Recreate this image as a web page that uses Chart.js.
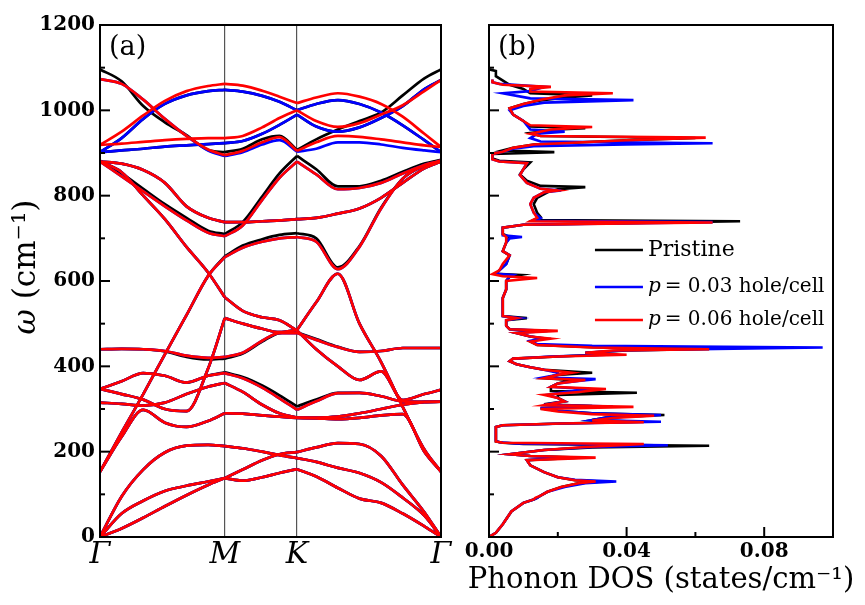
<!DOCTYPE html>
<html>
<head>
<meta charset="utf-8">
<script src="https://cdn.jsdelivr.net/npm/chart.js@4.4.0/dist/chart.umd.min.js"></script>
<style>
  body { margin: 0; background: #fff; }
  #wrap { position: relative; width: 865px; height: 605px; }
  #bandChart { position: absolute; left: 0; top: 0; }
  #dosChart { position: absolute; left: 460px; top: 0; }
</style>
</head>
<body>
<div id="wrap">
  <canvas id="bandChart" width="460" height="605"></canvas>
  <canvas id="dosChart" width="405" height="605"></canvas>
</div>
<script>
// k-path samples (Gamma - M - K - Gamma)
const kPath = [0, 0.1, 0.2, 0.3, 0.4, 0.5, 0.577, 0.66, 0.75, 0.83, 0.911, 1.0, 1.1, 1.2, 1.3, 1.4, 1.5, 1.577];
const kTicks = [0, 0.577, 0.911, 1.577];
const kLabels = ['Γ', 'M', 'K', 'Γ'];
const segments = [[0, 6], [6, 10], [10, 17]];

// branches shared by all three cases (cm^-1)
const acZA = [0, 20, 45, 72, 98, 122, 138, 132, 140, 150, 159, 142, 115, 90, 80, 55, 25, 0];
const acTA = [0, 55, 85, 108, 120, 130, 138, 158, 180, 194, 199, 210, 220, 218, 190, 122, 58, 0];
const acLA = [0, 95, 158, 198, 214, 216, 213, 208, 200, 192, 185, 176, 162, 150, 128, 92, 50, 0];
const optA = [153, 235, 298, 268, 258, 272, 290, 289, 285, 282, 279, 278, 276, 279, 285, 288, 200, 153];
const optC = [347, 335, 322, 300, 295, 395, 513, 500, 488, 480, 485, 550, 617, 500, 410, 305, 205, 153];
const optE = [315, 312, 308, 315, 335, 352, 361, 340, 310, 290, 280, 280, 282, 290, 300, 310, 316, 317];
const optG = [880, 855, 800, 745, 680, 620, 562, 530, 515, 508, 484, 440, 400, 368, 388, 321, 335, 345];
const optI = [880, 875, 860, 830, 775, 748, 738, 738, 740, 742, 745, 748, 758, 770, 795, 830, 864, 880];

// branches that shift with doping
const optB = [153, 245, 335, 428, 520, 612, 656, 678, 692, 700, 703, 692, 628, 680, 770, 840, 870, 880];
const optB0 = [153, 245, 335, 428, 520, 612, 658, 683, 698, 708, 712, 700, 632, 682, 772, 840, 870, 882];
const optD = [347, 365, 384, 378, 362, 378, 384, 372, 350, 325, 298, 318, 337, 338, 330, 318, 317, 317];
const optD0 = [347, 365, 384, 378, 362, 378, 386, 375, 355, 332, 306, 322, 338, 338, 330, 318, 317, 317];
const optF = [440, 441, 440, 436, 425, 420, 422, 432, 460, 478, 478, 462, 445, 434, 436, 443, 443, 443];
const optF0 = [440, 441, 440, 435, 422, 416, 418, 430, 458, 478, 480, 464, 446, 434, 436, 443, 443, 443];
const optH = [880, 845, 810, 775, 742, 713, 705, 730, 790, 842, 880, 850, 815, 818, 830, 852, 872, 882];
const optH0 = [882, 852, 816, 780, 748, 718, 710, 738, 798, 852, 893, 862, 822, 822, 835, 856, 875, 884];

const hiTop0 = [1096, 1068, 1010, 972, 942, 907, 902, 910, 932, 940, 907, 932, 955, 975, 995, 1035, 1075, 1096];
const hiTop03 = [1073, 1062, 1025, 980, 940, 906, 893, 902, 920, 930, 903, 910, 925, 925, 920, 912, 906, 902];
const hiRise03 = [902, 935, 980, 1015, 1035, 1045, 1048, 1044, 1034, 1020, 1000, 1015, 1024, 1015, 995, 965, 930, 902];
const hiFlat03 = [902, 906, 910, 915, 918, 921, 923, 928, 945, 966, 990, 962, 950, 960, 982, 1010, 1050, 1071];
const hiTop06 = [1073, 1062, 1025, 980, 940, 908, 895, 905, 925, 937, 905, 925, 940, 938, 932, 925, 918, 914];
const hiRise06 = [919, 950, 988, 1022, 1045, 1057, 1062, 1058, 1046, 1032, 1017, 1030, 1040, 1032, 1015, 985, 945, 914];
const hiFlat06 = [919, 922, 926, 930, 933, 935, 935, 940, 960, 982, 1000, 975, 961, 970, 990, 1012, 1045, 1071];

const pristineBands = [acZA, acTA, acLA, optA, optB0, optC, optD0, optE, optF0, optG, optH0, optI, hiTop0, hiRise03, hiFlat03];
const p03Bands = [acZA, acTA, acLA, optA, optB, optC, optD, optE, optF, optG, optH, optI, hiTop03, hiRise03, hiFlat03];
const p06Bands = [acZA, acTA, acLA, optA, optB, optC, optD, optE, optF, optG, optH, optI, hiTop06, hiRise06, hiFlat06];

// phonon DOS: frequency (cm^-1) and DOS (states/cm^-1)
const dosW0 = [0,10,30,60,80,88,92,97,106,117,126,130,133,140,152,168,180,186,190,194,204,210,214,218,221,224,258,262,266,270,274,280,286,290,296,302,307,311,318,326,333,338,342,352,360,368,372,380,385,392,398,405,412,418,423,428,432,437,441,445,450,458,465,470,478,483,487,495,508,513,518,540,560,580,600,610,614,617,625,640,660,670,690,703,710,725,732,740,743,750,760,780,795,808,815,820,823,835,850,862,878,882,887,898,902,906,912,920,930,935,940,947,955,958,962,975,990,1005,1015,1022,1030,1035,1040,1050,1060,1080,1092,1096];
const dosD0 = [0,0.002,0.004,0.0065,0.010,0.013,0.014,0.015,0.017,0.021,0.026,0.033,0.025,0.020,0.016,0.012,0.011,0.026,0.012,0.006,0.016,0.030,0.064,0.010,0.004,0.002,0.002,0.004,0.021,0.044,0.030,0.034,0.051,0.030,0.020,0.015,0.030,0.016,0.022,0.020,0.020,0.043,0.018,0.018,0.020,0.024,0.016,0.020,0.030,0.016,0.012,0.008,0.006,0.007,0.020,0.034,0.028,0.040,0.064,0.030,0.014,0.012,0.016,0.012,0.008,0.014,0.006,0.005,0.005,0.011,0.004,0.004,0.004,0.005,0.005,0.006,0.009,0.002,0.003,0.005,0.006,0.004,0.005,0.006,0.004,0.004,0.010,0.073,0.013,0.015,0.014,0.013,0.014,0.017,0.020,0.028,0.015,0.011,0.009,0.010,0.012,0.003,0.001,0.001,0.019,0.004,0.007,0.013,0.040,0.060,0.015,0.012,0.020,0.028,0.012,0.010,0.007,0.006,0.010,0.014,0.022,0.030,0.012,0.010,0.006,0.002,0.002,0];
const dosW3 = [0,10,30,60,80,88,92,97,106,117,126,130,134,140,152,168,180,186,190,194,204,211,215,219,222,226,258,262,266,270,274,280,286,290,296,302,306,310,318,326,333,340,346,352,360,366,370,374,380,385,392,398,405,412,418,423,427,432,438,444,448,452,460,466,470,478,483,487,495,508,513,518,540,560,580,600,610,614,617,625,640,660,670,690,700,703,707,725,732,738,741,748,760,780,795,808,812,816,830,848,862,876,880,885,898,903,910,916,920,923,927,935,945,950,955,975,990,1000,1010,1018,1024,1028,1040,1045,1055,1062,1066,1072];
const dosD3 = [0,0.002,0.004,0.0065,0.010,0.013,0.014,0.015,0.017,0.022,0.028,0.037,0.025,0.020,0.016,0.012,0.011,0.022,0.012,0.006,0.016,0.030,0.052,0.008,0.003,0.002,0.002,0.004,0.022,0.050,0.030,0.034,0.050,0.030,0.020,0.015,0.036,0.016,0.022,0.020,0.017,0.022,0.030,0.018,0.020,0.026,0.031,0.016,0.020,0.020,0.016,0.012,0.008,0.006,0.007,0.018,0.034,0.028,0.040,0.097,0.030,0.014,0.012,0.016,0.012,0.008,0.017,0.006,0.005,0.005,0.009,0.004,0.004,0.004,0.005,0.005,0.006,0.007,0.002,0.003,0.005,0.006,0.004,0.005,0.006,0.0096,0.004,0.004,0.010,0.065,0.013,0.015,0.013,0.012,0.013,0.016,0.021,0.015,0.011,0.009,0.010,0.011,0.003,0.001,0.001,0.004,0.007,0.013,0.040,0.065,0.015,0.012,0.014,0.022,0.012,0.010,0.007,0.006,0.010,0.016,0.042,0.012,0.004,0.012,0.016,0.003,0.001,0.001];
const dosW6 = [0,10,30,60,80,88,92,97,106,117,126,130,133,140,152,168,180,186,190,194,204,211,218,221,224,258,262,266,269,273,279,284,288,294,300,305,309,318,326,333,340,347,352,360,368,372,380,385,392,398,405,412,418,423,427,432,437,440,444,450,458,465,470,478,483,487,495,508,513,518,540,560,580,600,607,611,616,625,640,660,670,690,703,710,725,732,737,740,748,760,780,795,808,812,816,830,848,862,876,880,885,898,903,912,920,930,936,940,945,955,961,965,975,990,1005,1015,1025,1035,1040,1044,1050,1055,1060,1066,1072];
const dosD6 = [0,0.002,0.004,0.0065,0.010,0.013,0.0135,0.015,0.017,0.021,0.026,0.031,0.025,0.020,0.016,0.012,0.011,0.031,0.012,0.006,0.016,0.028,0.045,0.004,0.002,0.002,0.004,0.021,0.045,0.030,0.036,0.048,0.030,0.020,0.015,0.042,0.016,0.022,0.020,0.016,0.026,0.034,0.018,0.020,0.028,0.016,0.020,0.024,0.016,0.012,0.008,0.006,0.007,0.020,0.040,0.028,0.036,0.064,0.030,0.014,0.012,0.018,0.012,0.008,0.020,0.006,0.005,0.005,0.008,0.004,0.004,0.004,0.005,0.005,0.014,0.004,0.001,0.003,0.004,0.006,0.004,0.005,0.005,0.004,0.004,0.010,0.065,0.012,0.014,0.013,0.012,0.013,0.016,0.020,0.015,0.011,0.009,0.010,0.011,0.003,0.001,0.001,0.004,0.007,0.013,0.040,0.063,0.015,0.012,0.018,0.030,0.012,0.010,0.007,0.006,0.010,0.015,0.022,0.036,0.012,0.012,0.018,0.004,0.001,0.001];

const seriesNames = ['Pristine', '0.03', '0.06'];
const seriesColors = ['#000000', '#0000ff', '#ff0000'];
const freqMax = 1200;
const freqMajor = 200;
const freqMinor = 100;
const dosTicks = [0, 0.04, 0.08];
const dosMinor = [0.02, 0.06, 0.10];

const serif = '"DejaVu Serif", "Liberation Serif", serif';

function bandSets(bands, color, order) {
  const out = [];
  bands.forEach(b => {
    segments.forEach(([a, z]) => {
      const pts = [];
      for (let i = a; i <= z; i++) pts.push({ x: kPath[i], y: b[i] });
      out.push({
        data: pts, borderColor: color, borderWidth: 2.7, pointRadius: 0,
        cubicInterpolationMode: 'monotone', fill: false, order: order
      });
    });
  });
  return out;
}

// inward ticks, frame, panel tag, axis titles and legend
const framePlugin = {
  id: 'frame',
  afterDatasetsDraw(chart, args, opts) {
    const { ctx, chartArea: a, scales } = chart;
    ctx.save();
    ctx.strokeStyle = '#000';
    ctx.lineWidth = 2;
    for (let v = 0; v <= freqMax; v += freqMinor) {
      const py = scales.y.getPixelForValue(v);
      const len = v % freqMajor === 0 ? 10 : 5;
      ctx.beginPath(); ctx.moveTo(a.left, py); ctx.lineTo(a.left + len, py); ctx.stroke();
    }
    if (opts.xMajor) {
      opts.xMajor.concat(opts.xMinor).forEach((v, i) => {
        const px = scales.x.getPixelForValue(v);
        const len = i < opts.xMajor.length ? 10 : 5;
        ctx.beginPath(); ctx.moveTo(px, a.bottom); ctx.lineTo(px, a.bottom - len); ctx.stroke();
      });
    }
    ctx.strokeRect(a.left, a.top, a.right - a.left, a.bottom - a.top);
    ctx.fillStyle = '#000';
    ctx.font = '27px ' + serif;
    ctx.textBaseline = 'middle';
    ctx.fillText(opts.tag, a.left + 9, a.top + 23);

    if (opts.yTitle) {
      ctx.save();
      ctx.translate(27, 267);
      ctx.rotate(-Math.PI / 2);
      ctx.font = 'italic 31px ' + serif;
      const w1 = ctx.measureText('ω ').width;
      ctx.font = '31px ' + serif;
      const rest = '(cm⁻¹)';
      const w2 = ctx.measureText(rest).width;
      const tx = -(w1 + w2) / 2;
      ctx.font = 'italic 31px ' + serif;
      ctx.fillText('ω ', tx, 0);
      ctx.font = '31px ' + serif;
      ctx.fillText(rest, tx + w1, 0);
      ctx.restore();
    }

    if (opts.xTitle) {
      ctx.save();
      ctx.font = '29px ' + serif;
      ctx.textAlign = 'center';
      ctx.fillText(opts.xTitle, (a.left + a.right) / 2, 580);
      ctx.restore();
    }

    if (opts.legend) {
      const x0 = scales.x.getPixelForValue(0.0308);
      const rows = [250, 287, 320];
      seriesNames.forEach((name, i) => {
        ctx.strokeStyle = seriesColors[i];
        ctx.lineWidth = 2.7;
        ctx.beginPath(); ctx.moveTo(x0, rows[i]); ctx.lineTo(x0 + 48, rows[i]); ctx.stroke();
        let tx = x0 + 53;
        if (i === 0) {
          ctx.font = '22px ' + serif;
          ctx.fillText(name, tx, rows[i]);
        } else {
          ctx.font = 'italic 20px ' + serif;
          ctx.fillText('p', tx, rows[i]);
          tx += ctx.measureText('p').width + 4;
          ctx.font = '20px ' + serif;
          ctx.fillText('= ' + name + ' hole/cell', tx, rows[i]);
        }
      });
    }
    ctx.restore();
  }
};

const tickFont = { family: serif, size: 20, weight: 'bold' };

new Chart(document.getElementById('bandChart').getContext('2d'), {
  type: 'line',
  data: {
    datasets: [].concat(
      bandSets(pristineBands, seriesColors[0], 3),
      bandSets(p03Bands, seriesColors[1], 2),
      bandSets(p06Bands, seriesColors[2], 1)
    )
  },
  plugins: [framePlugin],
  options: {
    responsive: false,
    animation: false,
    devicePixelRatio: 1,
    layout: { padding: { top: 25, right: 19, left: 0, bottom: 0 } },
    plugins: {
      legend: { display: false },
      tooltip: { enabled: false },
      frame: { tag: '(a)', yTitle: true }
    },
    scales: {
      x: {
        type: 'linear', min: 0, max: 1.577,
        afterBuildTicks: s => { s.ticks = kTicks.map(v => ({ value: v })); },
        afterFit: s => { s.height = 68; },
        ticks: {
          callback: (v, i) => kLabels[i],
          font: { family: serif, size: 30, style: 'italic' },
          color: '#000', padding: 0, maxRotation: 0, autoSkip: false
        },
        grid: {
          color: c => (c.index === 1 || c.index === 2) ? '#555' : 'rgba(0,0,0,0)',
          lineWidth: 1.2, drawTicks: false
        },
        border: { display: false }
      },
      y: {
        min: 0, max: freqMax,
        afterFit: s => { s.width = 100; },
        ticks: { stepSize: freqMajor, font: tickFont, color: '#000', padding: 5, callback: v => String(v) },
        grid: { display: false, drawTicks: false },
        border: { display: false }
      }
    }
  }
});

function dosSet(w, d, color, order) {
  return {
    data: w.map((v, i) => ({ x: d[i], y: v })),
    borderColor: color, borderWidth: 2.6, pointRadius: 0, tension: 0,
    fill: false, order: order
  };
}

new Chart(document.getElementById('dosChart').getContext('2d'), {
  type: 'line',
  data: {
    datasets: [
      dosSet(dosW0, dosD0, seriesColors[0], 3),
      dosSet(dosW3, dosD3, seriesColors[1], 2),
      dosSet(dosW6, dosD6, seriesColors[2], 1)
    ]
  },
  plugins: [framePlugin],
  options: {
    responsive: false,
    animation: false,
    devicePixelRatio: 1,
    layout: { padding: { top: 25, right: 32, left: 0, bottom: 0 } },
    plugins: {
      legend: { display: false },
      tooltip: { enabled: false },
      frame: {
        tag: '(b)', xMajor: dosTicks, xMinor: dosMinor, legend: true,
        xTitle: 'Phonon DOS (states/cm⁻¹)'
      }
    },
    scales: {
      x: {
        type: 'linear', min: 0, max: 0.1,
        afterBuildTicks: s => { s.ticks = dosTicks.map(v => ({ value: v })); },
        afterFit: s => { s.height = 68; },
        ticks: {
          callback: v => v.toFixed(2),
          font: tickFont, color: '#000', padding: 3, maxRotation: 0, autoSkip: false
        },
        grid: { display: false, drawTicks: false },
        border: { display: false }
      },
      y: {
        min: 0, max: freqMax,
        afterFit: s => { s.width = 29; },
        ticks: { display: false, stepSize: freqMajor },
        grid: { display: false, drawTicks: false },
        border: { display: false }
      }
    }
  }
});
</script>
